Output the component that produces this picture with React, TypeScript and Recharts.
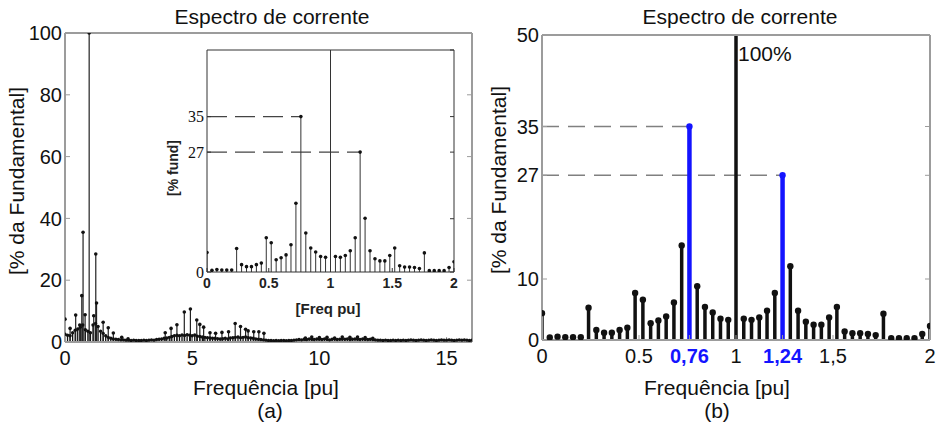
import React from 'react';
import { ComposedChart, XAxis, YAxis, Scatter, ReferenceLine } from 'recharts';

const SANS = '"Liberation Sans", Arial, Helvetica, sans-serif';
const SERIF = '"Liberation Serif", "Times New Roman", serif';

// ---------- Panel (b) and inset: 0..2 pu, step 0.04 pu ----------
const zoomFreq = [
  0, 0.04, 0.08, 0.12, 0.16, 0.2, 0.24, 0.28, 0.32, 0.36, 0.4, 0.44, 0.48,
  0.52, 0.56, 0.6, 0.64, 0.68, 0.72, 0.76, 0.8, 0.84, 0.88, 0.92, 0.96, 1,
  1.04, 1.08, 1.12, 1.16, 1.2, 1.24, 1.28, 1.32, 1.36, 1.4, 1.44, 1.48, 1.52,
  1.56, 1.6, 1.64, 1.68, 1.72, 1.76, 1.8, 1.84, 1.88, 1.92, 1.96, 2,
];
const zoomVal = [
  4.4, 0.4, 0.55, 0.45, 0.45, 0.45, 5.3, 1.65, 1.2, 1.2, 1.65, 2.0, 7.7,
  6.6, 2.75, 3.2, 3.85, 6.15, 15.5, 35, 8.8, 5.4, 4.5, 3.5, 3.3, 100,
  3.5, 3.3, 3.7, 4.8, 7.7, 27, 12.1, 4.8, 3.0, 2.5, 2.5, 3.7, 5.4,
  1.4, 1.1, 1.1, 1.0, 0.8, 4.3, 0.3, 0.3, 0.3, 0.3, 1.0, 2.3,
];
const sidebandFreq = [0.76, 1.24];
const sidebandVal = [35, 27];

// ---------- Panel (a): wide spectrum 0..16 pu ----------
const wideFloorFreq = [
  0, 0.1, 0.2, 0.3, 0.4, 0.5, 0.6, 0.7, 0.8, 0.9,
  1, 1.1, 1.2, 1.3, 1.4, 1.5, 1.6, 1.7, 1.8, 1.9,
  2, 2.1, 2.2, 2.3, 2.4, 2.5, 2.6, 2.7, 2.8, 2.9,
  3, 3.1, 3.2, 3.3, 3.4, 3.5, 3.6, 3.7, 3.8, 3.9,
  4, 4.1, 4.2, 4.3, 4.4, 4.5, 4.6, 4.7, 4.8, 4.9,
  5, 5.1, 5.2, 5.3, 5.4, 5.5, 5.6, 5.7, 5.8, 5.9,
  6, 6.1, 6.2, 6.3, 6.4, 6.5, 6.6, 6.7, 6.8, 6.9,
  7, 7.1, 7.2, 7.3, 7.4, 7.5, 7.6, 7.7, 7.8, 7.9,
  8, 8.1, 8.2, 8.3, 8.4, 8.5, 8.6, 8.7, 8.8, 8.9,
  9, 9.1, 9.2, 9.3, 9.4, 9.5, 9.6, 9.7, 9.8, 9.9,
  10, 10.1, 10.2, 10.3, 10.4, 10.5, 10.6, 10.7, 10.8, 10.9,
  11, 11.1, 11.2, 11.3, 11.4, 11.5, 11.6, 11.7, 11.8, 11.9,
  12, 12.1, 12.2, 12.3, 12.4, 12.5, 12.6, 12.7, 12.8, 12.9,
  13, 13.1, 13.2, 13.3, 13.4, 13.5, 13.6, 13.7, 13.8, 13.9,
  14, 14.1, 14.2, 14.3, 14.4, 14.5, 14.6, 14.7, 14.8, 14.9,
  15, 15.1, 15.2, 15.3, 15.4, 15.5, 15.6, 15.7, 15.8, 15.9,
  16,
];
const wideFloorVal = [
  2.5, 2.2, 2.0, 3.0, 3.8, 4.2, 4.8, 5.5, 4.0, 3.5,
  3.0, 5.5, 6.0, 5.0, 3.5, 2.8, 2.0, 1.5, 1.2, 1.0,
  0.9, 0.8, 0.7, 0.7, 0.6, 0.6, 0.5, 0.6, 0.5, 0.5,
  0.5, 0.6, 0.5, 0.6, 0.7, 0.6, 0.8, 0.9, 1.0, 1.2,
  1.3, 1.5, 1.8, 2.0, 2.2, 2.0, 2.3, 2.1, 2.4, 2.2,
  2.0, 2.3, 1.9, 1.8, 1.6, 1.5, 1.4, 1.3, 1.2, 1.2,
  1.1, 1.0, 1.1, 1.2, 1.0, 1.3, 1.4, 1.5, 1.6, 1.4,
  1.5, 1.6, 1.4, 1.3, 1.2, 1.0, 0.9, 0.8, 0.7, 0.6,
  0.5, 0.5, 0.4, 0.5, 0.4, 0.5, 0.5, 0.4, 0.5, 0.5,
  0.6, 0.7, 0.8, 0.7, 0.9, 0.8, 1.0, 0.9, 0.8, 1.0,
  0.9, 0.8, 1.0, 0.9, 0.7, 0.9, 1.0, 0.8, 0.9, 1.0,
  0.9, 1.0, 0.8, 0.9, 1.0, 0.9, 0.8, 1.0, 0.9, 0.8,
  0.9, 0.8, 0.7, 0.6, 0.6, 0.5, 0.6, 0.5, 0.5, 0.6,
  0.5, 0.6, 0.5, 0.6, 0.5, 0.6, 0.7, 0.6, 0.5, 0.6,
  0.7, 0.6, 0.5, 0.6, 0.7, 0.6, 0.5, 0.6, 0.7, 0.6,
  0.6, 0.7, 0.6, 0.5, 0.6, 0.7, 0.6, 0.7, 0.6, 0.5,
  0.6,
];
const widePeakFreq = [
  0, 0.2, 0.42, 0.58, 0.66, 0.71, 0.79, 0.95, 1.13, 1.21,
  1.24, 1.5, 1.7, 1.9, 2.23, 2.48,
  3.94, 4.17, 4.4, 4.69, 4.93, 5.18, 5.3, 5.45, 5.7, 5.92,
  6.17, 6.43, 6.69, 6.9, 7.1, 7.2, 7.42, 7.62, 7.82,
  9.45, 9.7, 10.0, 10.3, 10.6, 10.9, 11.2, 11.5, 11.8, 12.1,
];
const widePeakVal = [
  7.4, 4.4, 8.7, 5.5, 15, 35.5, 8.8, 100, 8.5, 28.5,
  12.6, 6.4, 4.6, 2.9, 1.5, 1.0,
  3.0, 4.4, 5.6, 9.7, 10.7, 7.1, 5.7, 4.8, 3.0, 2.8,
  3.1, 3.3, 6.0, 5.0, 4.1, 3.6, 3.3, 3.3, 2.8,
  1.3, 1.6, 1.4, 1.5, 1.3, 1.6, 1.5, 1.6, 1.4, 1.2,
];

// ---------- ticks & texts ----------
const leftXTicks = [0, 5, 10, 15];
const leftYTicks = [0, 20, 40, 60, 80, 100];
const rightXTicks = [0, 0.5, 0.76, 1, 1.24, 1.5, 2];
const rightXTickLabels = ['0', '0.5', '0,76', '1', '1,24', '1,5', '2'];
const rightYTicks = [0, 10, 27, 35, 50];
const insetXTicks = [0, 0.5, 1, 1.5, 2];
const insetXTickLabels = ['0', '0.5', '1', '1.5', '2'];
const insetYTicks = [0, 27, 35];
const insetYTickMarks = [0, 12, 27, 35, 50];

const titleText = 'Espectro de corrente';
const xLabelText = 'Frequência [pu]';
const yLabelText = '[% da Fundamental]';
const insetXLabel = '[Freq pu]';
const insetYLabel = '[% fund]';
const peakLabel = '100%';
const panelA = '(a)';
const panelB = '(b)';

const BLUE = '#1414ff';
const FRAME = '#9c9c9c';

const zoomData = zoomFreq.map((f, i) => ({ f, v: zoomVal[i] }));
const zoomBlack = zoomData.filter((d) => !sidebandFreq.includes(d.f));
const zoomBlue = sidebandFreq.map((f, i) => ({ f, v: sidebandVal[i] }));
const wideFloor = wideFloorFreq.map((f, i) => ({ f, v: wideFloorVal[i] }));
const widePeaks = widePeakFreq.map((f, i) => ({ f, v: widePeakVal[i] }));

const dot = (r: number, fill: string) => (p: any) =>
  p.cx == null ? <g /> : <circle cx={p.cx} cy={p.cy} r={r} fill={fill} />;

const noLabel = () => <g />;

function Txt(props: any) {
  const { x, y, children, size = 21, rotate = 0, weight = 'normal', family = SANS, color = '#111', left = false } = props;
  return (
    <div
      style={{
        position: 'absolute',
        left: x,
        top: y,
        transform: `translate(${left ? '0' : '-50%'},-50%) rotate(${rotate}deg)`,
        fontSize: size,
        fontFamily: family,
        fontWeight: weight,
        color,
        whiteSpace: 'nowrap',
        lineHeight: 1,
      }}
    >
      {children}
    </div>
  );
}

function stems(data: { f: number; v: number }[], stroke: string, width: number, prefix: string) {
  return data.map((d) => (
    <ReferenceLine
      key={prefix + d.f}
      segment={[{ x: d.f, y: 0 }, { x: d.f, y: d.v }]}
      stroke={stroke}
      strokeWidth={width}
      ifOverflow="hidden"
    />
  ));
}

// top and right frame sides with inward tick marks (negative tick size)
function frameAxes(xDomain: number[], xTicks: number[], yDomain: number[], yTicks: number[], color: string, w: number, tl: number) {
  return [
    <XAxis key="xt" xAxisId="xt" orientation="top" type="number" domain={xDomain} ticks={xTicks} allowDataOverflow
      tick={noLabel} tickSize={-tl} tickMargin={0} tickLine={{ stroke: color, strokeWidth: 1 }} axisLine={{ stroke: color, strokeWidth: w }} height={1} />,
    <YAxis key="yr" yAxisId="yr" orientation="right" type="number" domain={yDomain} ticks={yTicks} allowDataOverflow
      tick={noLabel} tickSize={-tl} tickMargin={0} tickLine={{ stroke: color, strokeWidth: 1 }} axisLine={{ stroke: color, strokeWidth: w }} width={1} />,
  ];
}

const RightXTick = (p: any) => {
  const i = rightXTicks.indexOf(p.payload.value);
  const blue = p.payload.value === 0.76 || p.payload.value === 1.24;
  return (
    <text x={p.x} y={p.y} dy="0.71em" textAnchor="middle" fontSize={20} fontFamily={SANS}
      fill={blue ? BLUE : '#111'} fontWeight={blue ? 'bold' : 'normal'}>
      {rightXTickLabels[i]}
    </text>
  );
};

const InsetXTick = (p: any) => {
  const i = insetXTicks.indexOf(p.payload.value);
  return (
    <text x={p.x} y={p.y} dy="0.71em" textAnchor="middle" fontSize={14} fontFamily={SANS} fontWeight="bold" fill="#222">
      {insetXTickLabels[i]}
    </text>
  );
};

function LeftChart() {
  return (
    <ComposedChart width={480} height={431} margin={{ top: 32, right: 7, bottom: 59, left: 0 }}>
      <XAxis dataKey="f" type="number" domain={[0, 16]} ticks={leftXTicks} allowDataOverflow height={30}
        tickLine={{ stroke: FRAME }} tickSize={-5} tickMargin={14} axisLine={{ stroke: FRAME, strokeWidth: 2 }}
        tick={{ fontSize: 20, fill: '#111', fontFamily: SANS }} />
      <YAxis dataKey="v" type="number" domain={[0, 100]} ticks={leftYTicks} allowDataOverflow width={65}
        tickLine={{ stroke: FRAME }} tickSize={-5} tickMargin={8} axisLine={{ stroke: FRAME, strokeWidth: 2 }}
        tick={{ fontSize: 20, fill: '#111', fontFamily: SANS }} />
      {frameAxes([0, 16], leftXTicks, [0, 100], leftYTicks, FRAME, 2, 5)}
      {stems(wideFloor, '#111', 1.3, 'lf')}
      {stems(widePeaks, '#222', 1.2, 'lp')}
      <Scatter data={wideFloor} dataKey="v" isAnimationActive={false} shape={dot(1.7, '#111')} />
      <Scatter data={widePeaks} dataKey="v" isAnimationActive={false} shape={dot(1.8, '#111')} />
    </ComposedChart>
  );
}

function InsetChart() {
  return (
    <ComposedChart width={320} height={270} margin={{ top: 19, right: 15, bottom: 8, left: 0 }}>
      <XAxis dataKey="f" type="number" domain={[0, 2]} ticks={insetXTicks} allowDataOverflow height={20}
        tickLine={{ stroke: '#333' }} tickSize={-4} tickMargin={10} axisLine={{ stroke: '#333', strokeWidth: 1 }} tick={<InsetXTick />} />
      <YAxis dataKey="v" type="number" domain={[0, 50]} ticks={insetYTicks} allowDataOverflow width={57}
        tickLine={{ stroke: '#333' }} tickSize={-4} tickMargin={7} axisLine={{ stroke: '#333', strokeWidth: 1 }}
        tick={{ fontSize: 16, fill: '#111', fontFamily: SERIF }} />
      {frameAxes([0, 2], insetXTicks, [0, 50], insetYTickMarks, '#333', 1, 4)}
      {zoomBlue.map((d) => (
        <ReferenceLine key={'id' + d.f} segment={[{ x: 0, y: d.v }, { x: d.f, y: d.v }]}
          stroke="#444" strokeWidth={1.2} strokeDasharray="20 8" ifOverflow="hidden" />
      ))}
      {stems(zoomData, '#333', 1, 'is')}
      <Scatter data={zoomData} dataKey="v" isAnimationActive={false} shape={dot(1.8, '#111')} />
    </ComposedChart>
  );
}

function RightChart() {
  return (
    <ComposedChart width={464} height={431} margin={{ top: 34, right: 13, bottom: 61, left: 0 }}>
      <XAxis dataKey="f" type="number" domain={[0, 2]} ticks={rightXTicks} allowDataOverflow height={30}
        tickLine={{ stroke: FRAME }} tickSize={-5} tickMargin={14} axisLine={{ stroke: FRAME, strokeWidth: 2 }} tick={<RightXTick />} />
      <YAxis dataKey="v" type="number" domain={[0, 50]} ticks={rightYTicks} allowDataOverflow width={62}
        tickLine={{ stroke: FRAME }} tickSize={-5} tickMargin={8} axisLine={{ stroke: FRAME, strokeWidth: 2 }}
        tick={{ fontSize: 20, fill: '#111', fontFamily: SANS }} />
      {frameAxes([0, 2], rightXTicks, [0, 50], rightYTicks, FRAME, 2, 5)}
      {zoomBlue.map((d) => (
        <ReferenceLine key={'d' + d.f} segment={[{ x: 0, y: d.v }, { x: d.f, y: d.v }]}
          stroke="#808080" strokeWidth={1.5} strokeDasharray="17 9" ifOverflow="hidden" />
      ))}
      {stems(zoomBlack, '#111', 3.5, 'rs')}
      {stems(zoomBlue, BLUE, 4.5, 'rb')}
      <Scatter data={zoomBlack} dataKey="v" isAnimationActive={false} shape={dot(3.2, '#111')} />
      <Scatter data={zoomBlue} dataKey="v" isAnimationActive={false} shape={dot(3.2, BLUE)} />
    </ComposedChart>
  );
}

export default function App() {
  return (
    <div style={{ position: 'absolute', left: 0, top: 0, width: 944, height: 431, background: '#fff', overflow: 'hidden' }}>
      <div style={{ position: 'absolute', left: 0, top: 0 }}><LeftChart /></div>
      <div style={{ position: 'absolute', left: 150, top: 30 }}><InsetChart /></div>
      <div style={{ position: 'absolute', left: 480, top: 0 }}><RightChart /></div>

      <Txt x={272} y={16}>{titleText}</Txt>
      <Txt x={740} y={16}>{titleText}</Txt>
      <Txt x={266} y={387}>{xLabelText}</Txt>
      <Txt x={717} y={387}>{xLabelText}</Txt>
      <Txt x={270} y={410}>{panelA}</Txt>
      <Txt x={717} y={410}>{panelB}</Txt>
      <Txt x={16} y={181} rotate={-90}>{yLabelText}</Txt>
      <Txt x={498} y={180} rotate={-90}>{yLabelText}</Txt>
      <Txt x={738} y={53} left>{peakLabel}</Txt>
      <Txt x={173} y={168} rotate={-90} size={14} weight="bold" color="#222">{insetYLabel}</Txt>
      <Txt x={328} y={308} size={15} weight="bold" color="#222">{insetXLabel}</Txt>
    </div>
  );
}
